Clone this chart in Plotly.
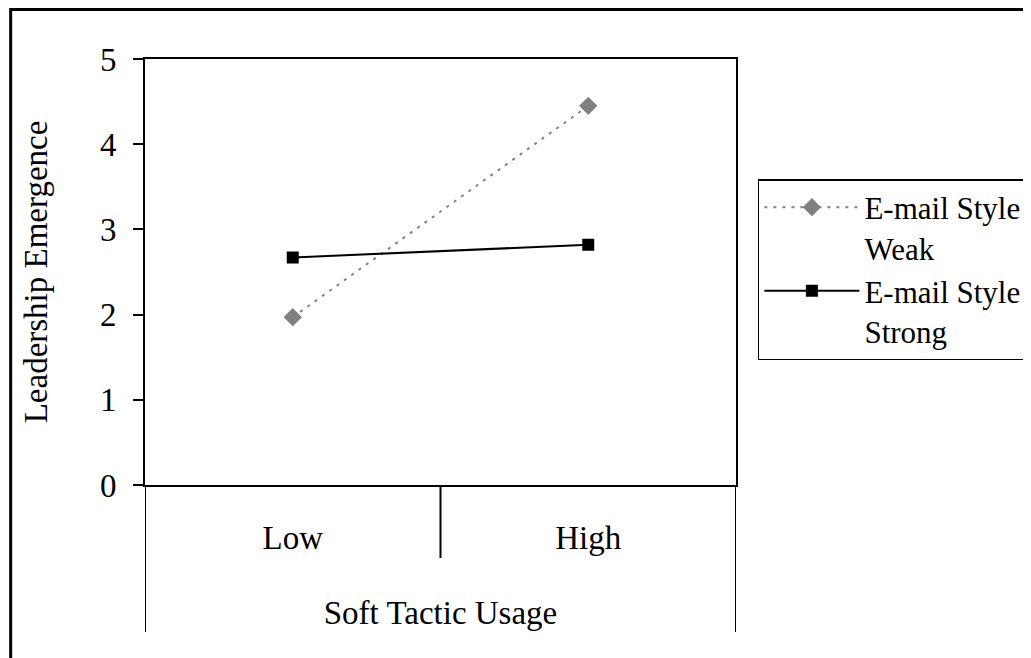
import plotly.graph_objects as go

categories = ["Low", "High"]
weak_values = [1.97, 4.45]
strong_values = [2.67, 2.82]
series_names = ["E-mail Style<br>Weak", "E-mail Style<br>Strong"]
y_ticks = [0, 1, 2, 3, 4, 5]

FONT = "Liberation Serif"

fig = go.Figure()
fig.add_trace(go.Scatter(
    x=categories, y=weak_values, name=series_names[0], mode="lines+markers",
    line=dict(color="#808080", width=2, dash="3px,6px"),
    marker=dict(symbol="diamond", size=14, color="#808080"),
))
fig.add_trace(go.Scatter(
    x=categories, y=strong_values, name=series_names[1], mode="lines+markers",
    line=dict(color="black", width=2),
    marker=dict(symbol="square", size=12, color="black"),
))

# page body margin of 8px is compensated
OFF = 8
W, H = 1031, 658
PL, PR, PT, PB = 145, 739, 59, 485  # plot area in page pixels
L = PL - OFF
T = PT - OFF
pw = PR - PL
ph = PB - PT
R = W - L - pw
B = H - T - ph

shapes = []
shapes.append(dict(type="line", xref="x", yref="paper", x0=0.5, x1=0.5, y0=0, y1=-(558 - PB) / ph,
                   line=dict(color="black", width=2)))
for xv in (-0.5, 1.5):
    shapes.append(dict(type="line", xref="x", yref="paper", x0=xv, x1=xv, y0=0, y1=-(632 - PB) / ph,
                       line=dict(color="black", width=2)))
shapes.append(dict(type="rect", xref="paper", yref="paper",
                   x0=(10 - PL) / pw, x1=2.0, y0=-1.0, y1=(PB - 9.5) / ph,
                   line=dict(color="black", width=3), fillcolor="rgba(0,0,0,0)"))

fig.update_layout(
    width=W, height=H,
    margin=dict(l=L, r=R, t=T, b=B, pad=0),
    paper_bgcolor="white", plot_bgcolor="white",
    font=dict(family=FONT, size=33, color="black"),
    shapes=shapes,
    showlegend=True,
    legend=dict(
        x=(761 - PL) / pw, y=(PB - 179) / ph, xanchor="left", yanchor="top",
        bordercolor="black", borderwidth=1.5, bgcolor="white",
        font=dict(family=FONT, size=31, color="black"),
        itemwidth=95, valign="top", tracegroupgap=8,
    ),
    xaxis=dict(
        type="category", range=[-0.5, 1.5], showgrid=False, zeroline=False,
        showline=True, linecolor="black", linewidth=2, mirror=True,
        ticks="", ticklabelstandoff=22,
        tickfont=dict(family=FONT, size=33),
        title=dict(text="Soft Tactic Usage", standoff=46, font=dict(family=FONT, size=33)),
    ),
    yaxis=dict(
        range=[0, 5], tickvals=y_ticks, showgrid=False, zeroline=False,
        showline=True, linecolor="black", linewidth=2, mirror=True,
        ticks="outside", ticklen=10, tickwidth=2, tickcolor="black",
        ticklabelstandoff=10,
        tickfont=dict(family=FONT, size=33),
        title=dict(text="Leadership Emergence", standoff=42, font=dict(family=FONT, size=33)),
    ),
)

fig.write_html("out.html")
